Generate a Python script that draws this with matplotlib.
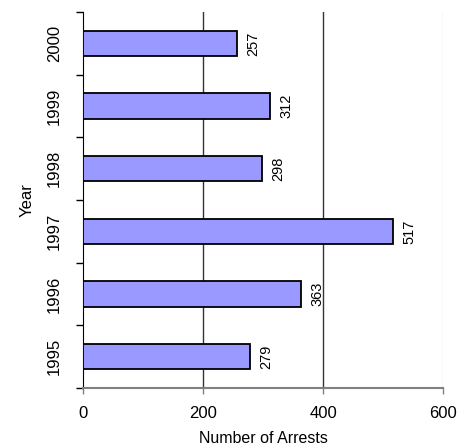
import numpy as np
import matplotlib.pyplot as plt

# dane
years = ['1995', '1996', '1997', '1998', '1999', '2000']
arrests = [279, 363, 517, 298, 312, 257]
x_ticks = [0, 200, 400, 600]

plt.rcParams['font.family'] = ['Liberation Sans', 'DejaVu Sans']

fig = plt.figure(figsize=(4.71, 4.48), dpi=100)
ax = fig.add_axes([83 / 471, 1 - 388 / 448, 360 / 471, 376 / 448])

y_pos = np.arange(len(years))
ax.barh(y_pos, arrests, height=0.4, color='#9999ff', edgecolor='black',
        linewidth=1.3, zorder=3)

# etykiety wartosci
for y, v in zip(y_pos, arrests):
    ax.text(v + 27, y, str(v), rotation=90, ha='center', va='center',
            fontsize=10.5, zorder=4)

ax.set_xlim(0, 600)
ax.set_ylim(-0.5, len(years) - 0.5)

# linie siatki
for gx in x_ticks[1:3]:
    ax.axvline(gx, color='#333333', linewidth=1.0, zorder=1)
ax.axvline(600, color='#dddddd', linewidth=1.0, zorder=1)

ax.set_xticks(x_ticks)
ax.set_xticklabels([str(t) for t in x_ticks], fontsize=12)
ax.tick_params(axis='x', direction='out', length=4, width=1.0,
               color='#808080', pad=9)

ax.set_yticks(np.arange(-0.5, len(years), 1.0))
ax.set_yticklabels([])
ax.set_yticks(y_pos, minor=True)
ax.set_yticklabels(years, minor=True, rotation=90, va='center', fontsize=12)
ax.tick_params(axis='y', which='major', direction='out', length=5,
               width=1.0, color='black')
ax.tick_params(axis='y', which='minor', length=0, pad=15)

ax.spines['top'].set_visible(False)
ax.spines['right'].set_visible(False)
ax.spines['left'].set_color('black')
ax.spines['bottom'].set_color('#808080')
ax.spines['bottom'].set_linewidth(1.5)

ax.set_xlabel('Number of Arrests', fontsize=11.5, labelpad=7)
ax.set_ylabel('Year', fontsize=12, labelpad=9)

plt.savefig('out.png', dpi=100)
